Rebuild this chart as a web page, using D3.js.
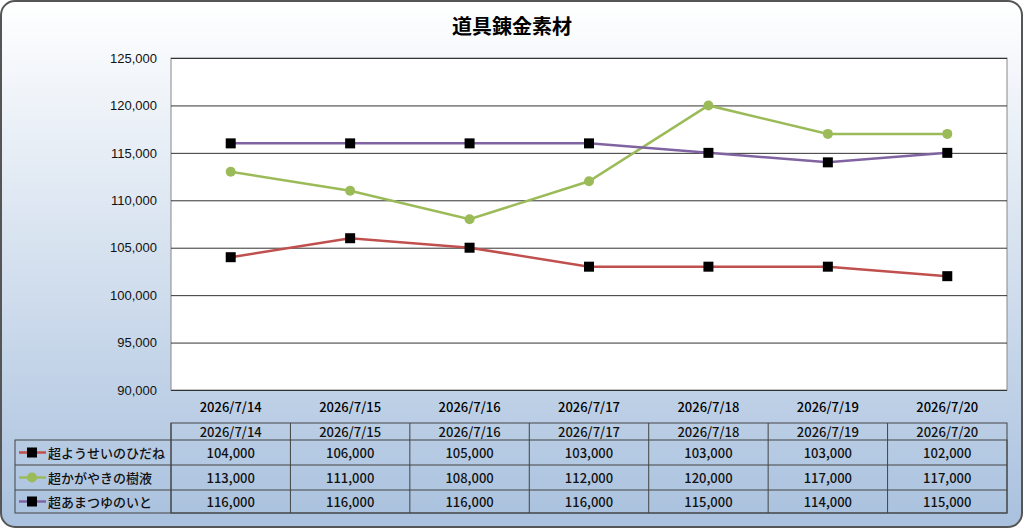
<!DOCTYPE html>
<html><head><meta charset="utf-8">
<script src="https://cdn.jsdelivr.net/npm/d3@7"></script>
<style>body{margin:0;background:#fff}svg{display:block;font-family:"Noto Sans CJK JP",sans-serif}</style>
</head><body><svg id="c" width="1024" height="529"></svg>
<script>
const dates = ['2026/7/14','2026/7/15','2026/7/16','2026/7/17','2026/7/18','2026/7/19','2026/7/20']
const names = ['超ようせいのひだね','超かがやきの樹液','超あまつゆのいと']
const s1 = [104000,106000,105000,103000,103000,103000,102000]
const s2 = [113000,111000,108000,112000,120000,117000,117000]
const s3 = [116000,116000,116000,116000,115000,114000,115000]
const yTicks = [90000,95000,100000,105000,110000,115000,120000,125000]
const colors = ['#c0504d','#9bbb59','#8064a2']
const markers = ['square','circle','square']
const series = [s1,s2,s3]

const svg = d3.select('#c')
const defs = svg.append('defs')
const grad = defs.append('linearGradient').attr('id','bg').attr('x1',0).attr('y1',0).attr('x2',0).attr('y2',1)
grad.append('stop').attr('offset','0%').attr('stop-color','#ffffff')
grad.append('stop').attr('offset','100%').attr('stop-color','#a9c1de')
svg.append('rect').attr('x',1).attr('y',1).attr('width',1021).attr('height',526).attr('rx',14)
  .attr('fill','url(#bg)').attr('stroke','#555').attr('stroke-width',2)

svg.append('text').attr('x',512).attr('y',34).attr('text-anchor','middle')
  .attr('font-size',20).attr('font-weight','bold').text('道具錬金素材')

const pLeft = 171, pRight = 1007, pTop = 58, pBottom = 390
const x = d3.scaleBand().domain(dates).range([pLeft,pRight])
const y = d3.scaleLinear().domain([90000,125000]).range([pBottom,pTop])

svg.append('rect').attr('x',pLeft).attr('y',pTop).attr('width',pRight-pLeft).attr('height',pBottom-pTop)
  .attr('fill','#fff').attr('stroke','#888')
const ya = svg.append('g').attr('transform',`translate(${pLeft},0)`)
  .call(d3.axisLeft(y).tickValues(yTicks).tickSize(-(pRight-pLeft)).tickFormat(d3.format(',')))
ya.select('.domain').remove()
ya.selectAll('line').attr('stroke','#333')
ya.selectAll('text').attr('font-size',13).attr('fill','#111').attr('x',-14).attr('font-weight',500)

svg.append('g').selectAll('text').data(dates).join('text')
  .attr('x',d=>x(d)+x.bandwidth()/2).attr('y',412).attr('text-anchor','middle')
  .attr('font-size',13).attr('font-weight',500).text(d=>d)

const line = d3.line().x((d,i)=>x(dates[i])+x.bandwidth()/2).y(d=>y(d))
series.forEach((s,k)=>{
  svg.append('path').datum(s).attr('d',line).attr('fill','none').attr('stroke',colors[k]).attr('stroke-width',2.5)
  const g = svg.append('g')
  s.forEach((v,i)=>{
    const cx = x(dates[i])+x.bandwidth()/2, cy = y(v)
    if (markers[k]==='circle') g.append('circle').attr('cx',cx).attr('cy',cy).attr('r',5).attr('fill',colors[k])
    else g.append('rect').attr('x',cx-5).attr('y',cy-5).attr('width',10).attr('height',10).attr('fill','#000')
  })
})

// data table
const tLeft = 15, hTop = 423, rowH = [17,25,25,23]
const tg = svg.append('g').attr('fill','none').attr('stroke','#444')
let ys = [hTop]; rowH.forEach(h=>ys.push(ys[ys.length-1]+h))
tg.append('rect').attr('x',pLeft).attr('y',hTop).attr('width',pRight-pLeft).attr('height',ys[4]-hTop)
tg.append('rect').attr('x',tLeft).attr('y',ys[1]).attr('width',pRight-tLeft).attr('height',ys[4]-ys[1])
for (let r=2;r<4;r++) tg.append('line').attr('x1',tLeft).attr('x2',pRight).attr('y1',ys[r]).attr('y2',ys[r])
tg.append('line').attr('x1',pLeft).attr('x2',pLeft).attr('y1',hTop).attr('y2',ys[4])
dates.forEach(d=>{ if (x(d)>pLeft) tg.append('line').attr('x1',x(d)).attr('x2',x(d)).attr('y1',hTop).attr('y2',ys[4]) })

const tt = svg.append('g').attr('font-size',13).attr('font-weight',500).attr('fill','#111')
dates.forEach(d=>tt.append('text').attr('x',x(d)+x.bandwidth()/2).attr('y',hTop+14).attr('text-anchor','middle').text(d))
series.forEach((s,k)=>{
  const cy = (ys[k+1]+ys[k+2])/2
  svg.append('line').attr('x1',19).attr('x2',46).attr('y1',cy).attr('y2',cy).attr('stroke',colors[k]).attr('stroke-width',2.5)
  if (markers[k]==='circle') svg.append('circle').attr('cx',32).attr('cy',cy).attr('r',5).attr('fill',colors[k])
  else svg.append('rect').attr('x',27).attr('y',cy-5).attr('width',10).attr('height',10).attr('fill','#000')
  tt.append('text').attr('x',48).attr('y',cy+5).text(names[k])
  s.forEach((v,i)=>tt.append('text').attr('x',x(dates[i])+x.bandwidth()/2).attr('y',cy+5).attr('text-anchor','middle').text(d3.format(',')(v)))
})
</script></body></html>
